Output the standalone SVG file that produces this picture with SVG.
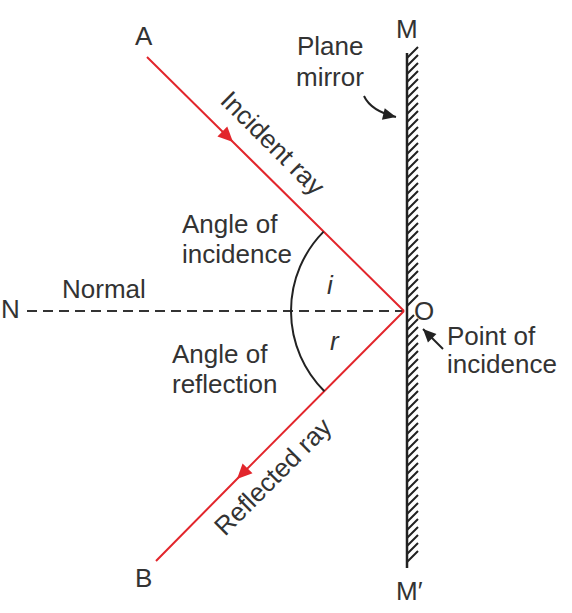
<svg xmlns="http://www.w3.org/2000/svg" width="572" height="613" viewBox="0 0 572 613">
  <style>
    text { font-family: "Liberation Sans", Arial, sans-serif; font-size: 26px; fill: #333; }
    .it { font-style: italic; }
    .ray { stroke: #e2262c; stroke-width: 2; fill: none; }
    .ink { stroke: #222; stroke-width: 2; fill: none; }
  </style>
  <defs>
    <marker id="redHead" markerUnits="userSpaceOnUse" markerWidth="30" markerHeight="30" viewBox="-20 -10 30 20" refX="0" refY="0" orient="auto">
      <path d="M0 0 L-15 -7 L-15 7 Z" fill="#e2262c"/>
    </marker>
    <marker id="blackHead" markerUnits="userSpaceOnUse" markerWidth="30" markerHeight="30" viewBox="-20 -10 30 20" refX="0" refY="0" orient="auto">
      <path d="M0 0 L-13 -6 L-13 6 Z" fill="#222"/>
    </marker>
  </defs>
  <rect width="572" height="613" fill="#fff"/>

  <g id="mirror">
    <line x1="407" y1="53" x2="407" y2="568" stroke="#222" stroke-width="2.5"/>
    <path class="ink" stroke-width="1.6" d="M407 58l11-11M407 66l11-11M407 74l11-11M407 82l11-11M407 90l11-11M407 98l11-11M407 106l11-11M407 114l11-11M407 122l11-11M407 130l11-11M407 138l11-11M407 146l11-11M407 154l11-11M407 162l11-11M407 170l11-11M407 178l11-11M407 186l11-11M407 194l11-11M407 202l11-11M407 210l11-11M407 218l11-11M407 226l11-11M407 234l11-11M407 242l11-11M407 250l11-11M407 258l11-11M407 266l11-11M407 274l11-11M407 282l11-11M407 290l11-11M407 298l11-11M407 306l11-11M407 322l7-7M407 330l11-11M407 338l11-11M407 346l11-11M407 354l11-11M407 362l11-11M407 370l11-11M407 378l11-11M407 386l11-11M407 394l11-11M407 402l11-11M407 410l11-11M407 418l11-11M407 426l11-11M407 434l11-11M407 442l11-11M407 450l11-11M407 458l11-11M407 466l11-11M407 474l11-11M407 482l11-11M407 490l11-11M407 498l11-11M407 506l11-11M407 514l11-11M407 522l11-11M407 530l11-11M407 538l11-11M407 546l11-11M407 554l11-11M407 562l11-11"/>
  </g>

  <g id="connectors">
    <line id="normal" x1="27" y1="311" x2="404" y2="311" stroke="#333" stroke-width="2" stroke-dasharray="10 6"/>
    <path id="incident" class="ray" d="M147 57 L233 142 L404 311" marker-mid="url(#redHead)"/>
    <path id="reflected" class="ray" d="M404 311 L237 479 L156 561" marker-mid="url(#redHead)"/>
    <path id="angleArc" class="ink" d="M323.6 231.6 A113 113 0 0 0 324.4 391.2"/>
    <path id="mirrorPointer" class="ink" d="M364 96 Q371 111 396 117" marker-end="url(#blackHead)"/>
    <line id="pointPointer" class="ink" x1="443" y1="349" x2="423" y2="329" marker-end="url(#blackHead)"/>
  </g>

  <g id="labelA"><text x="135" y="45">A</text></g>
  <g id="labelB"><text x="135" y="587">B</text></g>
  <g id="labelM"><text x="396" y="38">M</text></g>
  <g id="labelM2"><text x="396" y="600">M′</text></g>
  <g id="labelN"><text x="1" y="318">N</text></g>
  <g id="labelO"><text x="414" y="320">O</text></g>
  <g id="labelNormal"><text x="62" y="298">Normal</text></g>
  <g id="labelPlaneMirror">
    <text x="297" y="55">Plane</text>
    <text x="296" y="86">mirror</text>
  </g>
  <g id="labelIncidence">
    <text x="182" y="233">Angle of</text>
    <text x="182" y="263">incidence</text>
  </g>
  <g id="labelReflection">
    <text x="172" y="363">Angle of</text>
    <text x="172" y="393">reflection</text>
  </g>
  <g id="labelPoint">
    <text x="447" y="345">Point of</text>
    <text x="447" y="373">incidence</text>
  </g>
  <g id="labelI"><text class="it" x="327" y="294">i</text></g>
  <g id="labelR"><text class="it" x="330" y="350">r</text></g>
  <g id="labelIncidentRay"><text transform="translate(219 102) rotate(45)">Incident ray</text></g>
  <g id="labelReflectedRay"><text transform="translate(225 537) rotate(-45)">Reflected ray</text></g>
</svg>
